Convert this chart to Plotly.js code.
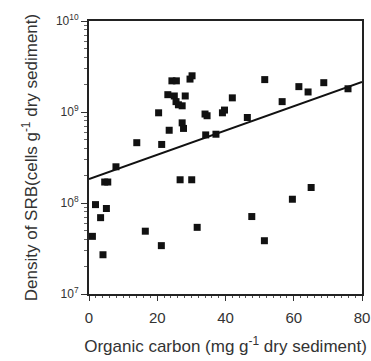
<!DOCTYPE html>
<html>
<head>
<meta charset="utf-8">
<script src="https://cdn.plot.ly/plotly-3.0.1.min.js"></script>
<style>html,body{margin:0;padding:0;background:#fff;}#chart{width:371px;height:361px;}</style>
</head>
<body>
<div id="chart"></div>
<script>
// Organic carbon (mg g-1 dry sediment)
var carbon = [1.0, 1.9, 3.4, 4.1, 4.6, 5.5, 5.1, 7.9, 14.0, 16.5, 20.4, 21.3, 21.2, 23.1, 23.5,
  24.3, 25.6, 25.0, 25.5, 26.2, 27.3, 26.7, 27.3, 27.7, 28.2, 29.6, 30.2, 30.1, 31.7, 34.0,
  34.6, 34.2, 37.2, 39.1, 39.7, 42.0, 46.4, 47.7, 51.5, 51.4, 56.6, 59.6, 61.5, 64.2, 65.1,
  68.8, 75.9];
// Density of SRB (cells g-1 dry sediment)
var density = [4.3e7, 9.6e7, 6.9e7, 2.7e7, 1.7e8, 1.7e8, 8.7e7, 2.5e8, 4.6e8, 4.9e7, 9.8e8, 4.4e8, 3.4e7, 1.55e9, 6.3e8,
  2.2e9, 2.2e9, 1.5e9, 1.3e9, 1.2e9, 1.17e9, 1.8e8, 7.6e8, 6.6e8, 1.5e9, 2.3e9, 2.5e9, 1.8e8, 5.4e7, 9.5e8,
  9.1e8, 5.6e8, 5.7e8, 9.8e8, 1.05e9, 1.43e9, 8.7e8, 7.1e7, 2.27e9, 3.85e7, 1.3e9, 1.1e8, 1.9e9, 1.66e9, 1.48e8,
  2.1e9, 1.8e9];
// Regression line end points
var fitX = [0, 80];
var fitY = [1.83e8, 2.14e9];

var xTickVals = [0, 20, 40, 60, 80];
var xTickText = ['0', '20', '40', '60', '80'];
var yTickVals = [1e7, 1e8, 1e9, 1e10];
var yTickText = ['10<sup>7</sup>', '10<sup>8</sup>', '10<sup>9</sup>', '10<sup>10</sup>'];

var yMinor = [];
for (var e = 7; e < 10; e++) { for (var m = 2; m <= 9; m++) { yMinor.push(m * Math.pow(10, e)); } }

var fam = 'Liberation Sans, Arial, sans-serif';
var titleFont = {family: fam, size: 17, color: '#333'};

Plotly.newPlot('chart', [
  {x: carbon, y: density, type: 'scatter', mode: 'markers',
   marker: {symbol: 'square', size: 7, color: '#111'}, hoverinfo: 'none'},
  {x: fitX, y: fitY, type: 'scatter', mode: 'lines',
   line: {color: '#111', width: 2}, hoverinfo: 'none'}
], {
  width: 371, height: 361,
  margin: {l: 89, r: 9, t: 21, b: 67},
  showlegend: false,
  paper_bgcolor: '#fff', plot_bgcolor: '#fff',
  font: titleFont,
  xaxis: {
    range: [0, 80], tickmode: 'array', tickvals: xTickVals, ticktext: xTickText,
    ticks: 'outside', ticklen: 5, tickwidth: 1, tickcolor: '#333',
    minor: {dtick: 2, ticks: 'outside', ticklen: 2, tickwidth: 1, tickcolor: '#555', showgrid: false},
    showline: true, linecolor: '#222', linewidth: 2, mirror: true,
    showgrid: false, zeroline: false,
    ticklabelstandoff: 4, ticklabeloverflow: 'allow',
    tickfont: {family: fam, size: 15, color: '#333'},
    title: {text: 'Organic carbon (mg g<sup>-1</sup> dry sediment)', font: titleFont, standoff: 15}
  },
  yaxis: {
    type: 'log', range: [7, 10], tickmode: 'array', tickvals: yTickVals, ticktext: yTickText,
    ticks: 'outside', ticklen: 6, tickwidth: 1, tickcolor: '#333',
    minor: {tickmode: 'array', tickvals: yMinor, ticks: 'outside', ticklen: 3, tickwidth: 1, tickcolor: '#666', showgrid: false},
    showline: true, linecolor: '#222', linewidth: 2, mirror: true,
    showgrid: false, zeroline: false,
    tickfont: {family: fam, size: 12, color: '#333'},
    title: {text: 'Density of SRB(cells g<sup>-1</sup> dry sediment)', font: titleFont, standoff: 14}
  }
}, {staticPlot: true});
</script>
</body>
</html>
